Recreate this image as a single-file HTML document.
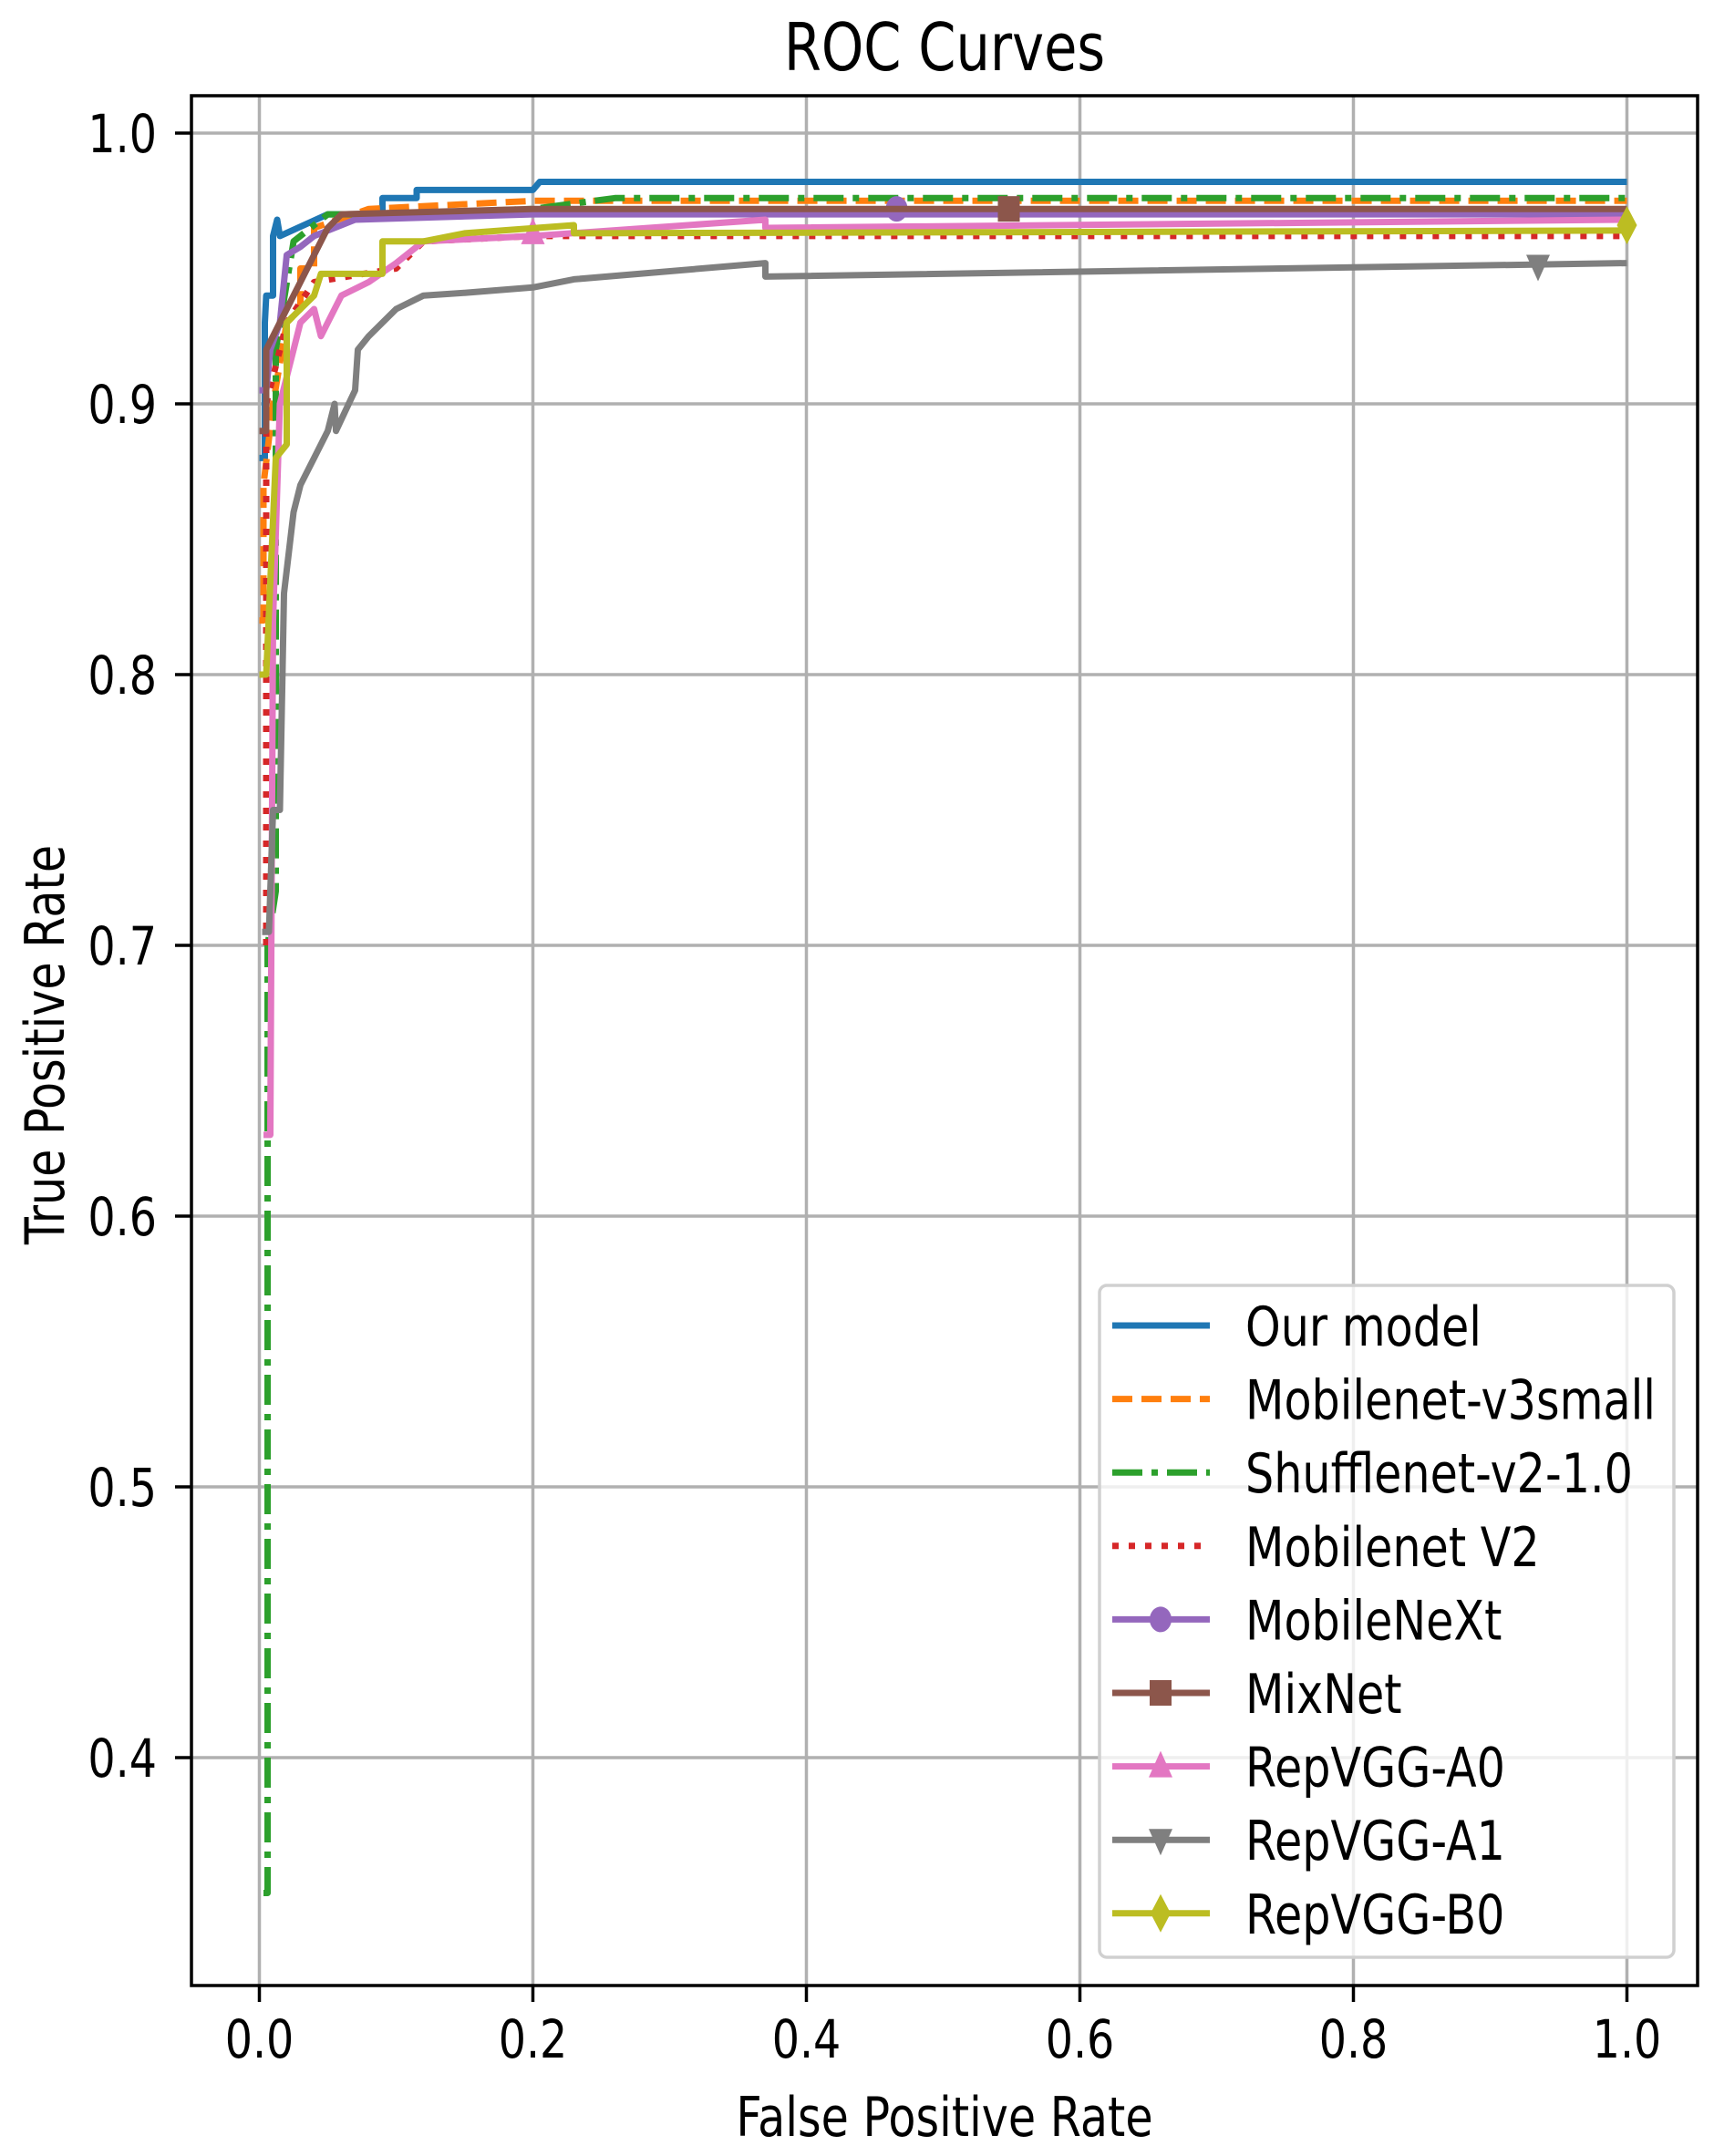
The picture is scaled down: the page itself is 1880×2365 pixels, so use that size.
<!DOCTYPE html>
<html><head><meta charset="utf-8"><style>
body{margin:0;background:#fff}
svg text{font-family:"DejaVu Sans","Liberation Sans",sans-serif;fill:#000}
</style></head><body>
<svg id="s" width="1880" height="2360" xmlns="http://www.w3.org/2000/svg">
<rect width="1880" height="2360" fill="#fff"/>
<g id="grid" stroke="#b0b0b0" stroke-width="3.5"></g>
<g id="curves" fill="none" stroke-width="7" stroke-linejoin="round"></g>
<rect x="210" y="105" width="1652" height="2073" fill="none" stroke="#000" stroke-width="3.5"/>
<g id="ticks" stroke="#000" stroke-width="3.5"></g>
<g id="labels" font-size="58"></g>
<text transform="translate(1036,77) scale(0.82,1)" font-size="72" text-anchor="middle">ROC Curves</text>
<text transform="translate(1036,2343) scale(0.82,1)" font-size="60" text-anchor="middle">False Positive Rate</text>
<text transform="translate(70,1146) rotate(-90) scale(0.82,1)" font-size="60" text-anchor="middle">True Positive Rate</text>
<rect x="1206" y="1410" width="630" height="737" rx="8" fill="#fff" fill-opacity="0.8" stroke="#d0d0d0" stroke-width="3.5"/>
<g id="legend" font-size="60"></g>
</svg>
<script>
const X=v=>284.5+1500*v, Y=v=>146+2970*(1-v);
const NS="http://www.w3.org/2000/svg";
function el(p,t,a,txt){const e=document.createElementNS(NS,t);for(const k in a)e.setAttribute(k,a[k]);if(txt)e.textContent=txt;document.getElementById(p).appendChild(e);return e;}
for(let i=0;i<=5;i++){const x=X(i*0.2);el('grid','line',{x1:x,y1:105,x2:x,y2:2178});el('ticks','line',{x1:x,y1:2178,x2:x,y2:2196});el('labels','text',{transform:`translate(${x},2257) scale(0.82,1)`,'text-anchor':'middle'},(i*0.2).toFixed(1));}
for(let i=4;i<=10;i++){const y=Y(i/10);el('grid','line',{x1:210,y1:y,x2:1862,y2:y});el('ticks','line',{x1:192,y1:y,x2:210,y2:y});el('labels','text',{transform:`translate(172,${y+21}) scale(0.82,1)`,'text-anchor':'end'},(i/10).toFixed(1));}
const S=[
["Our model","#1f77b4","",[[0,0.88],[0.004,0.88],[0.004,0.93],[0.005,0.94],[0.01,0.94],[0.01,0.962],[0.013,0.968],[0.015,0.962],[0.05,0.97],[0.09,0.97],[0.09,0.976],[0.115,0.976],[0.115,0.979],[0.2,0.979],[0.205,0.982],[1,0.982]],null],
["Mobilenet-v3small","#ff7f0e","22 10",[[0,0.82],[0.003,0.82],[0.003,0.87],[0.01,0.9],[0.02,0.93],[0.03,0.935],[0.03,0.95],[0.04,0.95],[0.04,0.965],[0.08,0.972],[0.2,0.975],[1,0.975]],null],
["Shufflenet-v2-1.0","#2ca02c","33 10 7 10",[[0.003,0.35],[0.006,0.35],[0.006,0.7],[0.012,0.72],[0.012,0.92],[0.025,0.96],[0.04,0.966],[0.05,0.97],[0.1,0.97],[0.2,0.972],[0.26,0.976],[1,0.976]],null],
["Mobilenet V2","#d62728","7 11",[[0.005,0.7],[0.005,0.9],[0.02,0.93],[0.04,0.945],[0.1,0.95],[0.12,0.96],[0.2,0.962],[1,0.962]],null],
["MobileNeXt","#9467bd","",[[0,0.905],[0.005,0.905],[0.008,0.92],[0.015,0.93],[0.02,0.955],[0.03,0.958],[0.04,0.962],[0.07,0.968],[0.2,0.97],[1,0.97]],["o",0.466,0.972]],
["MixNet","#8c564b","",[[0,0.89],[0.005,0.89],[0.005,0.92],[0.01,0.925],[0.02,0.935],[0.03,0.945],[0.04,0.955],[0.05,0.965],[0.06,0.97],[0.2,0.972],[1,0.972]],["s",0.548,0.972]],
["RepVGG-A0","#e377c2","",[[0.003,0.63],[0.008,0.63],[0.01,0.82],[0.015,0.9],[0.03,0.93],[0.04,0.935],[0.045,0.925],[0.06,0.94],[0.08,0.945],[0.1,0.952],[0.12,0.96],[0.2,0.962],[0.37,0.968],[0.37,0.965],[1,0.968]],["^",0.2,0.963]],
["RepVGG-A1","#7f7f7f","",[[0.002,0.705],[0.007,0.705],[0.01,0.75],[0.015,0.75],[0.018,0.83],[0.025,0.86],[0.03,0.87],[0.04,0.88],[0.05,0.89],[0.055,0.9],[0.056,0.89],[0.07,0.905],[0.072,0.92],[0.08,0.925],[0.09,0.93],[0.1,0.935],[0.12,0.94],[0.15,0.941],[0.2,0.943],[0.23,0.946],[0.37,0.952],[0.37,0.947],[1,0.952]],["v",0.935,0.951]],
["RepVGG-B0","#bcbd22","",[[0,0.8],[0.005,0.8],[0.012,0.88],[0.02,0.885],[0.02,0.93],[0.03,0.935],[0.04,0.94],[0.045,0.948],[0.09,0.948],[0.09,0.96],[0.12,0.96],[0.15,0.963],[0.23,0.966],[0.23,0.963],[1,0.964]],["d",1,0.966]]];
function marker(g,t,x,y,c){
 if(t=="o")el(g,'ellipse',{cx:x,cy:y,rx:12,ry:14,fill:c,stroke:'none'});
 if(t=="s")el(g,'rect',{x:x-12,y:y-14,width:24,height:28,fill:c,stroke:'none'});
 if(t=="^")el(g,'polygon',{points:`${x},${y-17} ${x-13},${y+12} ${x+13},${y+12}`,fill:c,stroke:'none'});
 if(t=="v")el(g,'polygon',{points:`${x},${y+17} ${x-13},${y-12} ${x+13},${y-12}`,fill:c,stroke:'none'});
 if(t=="d")el(g,'polygon',{points:`${x},${y-21} ${x-11},${y} ${x},${y+21} ${x+11},${y}`,fill:c,stroke:'none'});
}
S.forEach((s,i)=>{
 const a={points:s[3].map(p=>X(p[0]).toFixed(1)+","+Y(p[1]).toFixed(1)).join(" "),stroke:s[1]};
 if(s[2])a['stroke-dasharray']=s[2];
 el('curves','polyline',a);
 if(s[4])marker('curves',s[4][0],X(s[4][1]),Y(s[4][2]),s[1]);
 const y=1454+i*80.6;
 const la={x1:1220,y1:y,x2:1327,y2:y,stroke:s[1],'stroke-width':7};
 if(s[2])la['stroke-dasharray']=s[2];
 el('legend','line',la);
 if(s[4])marker('legend',s[4][0],1273,y,s[1]);
 el('legend','text',{transform:`translate(1366,${y+22}) scale(0.82,1)`},s[0]);
});
</script>
</body></html>
